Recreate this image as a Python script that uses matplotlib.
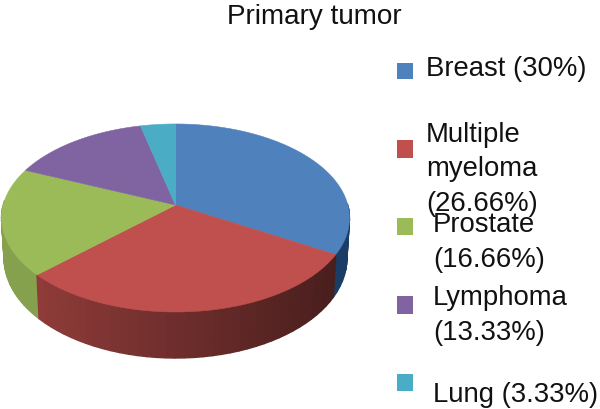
import matplotlib
matplotlib.use('Agg')
import matplotlib.pyplot as plt
import numpy as np
from matplotlib.colors import to_rgb
from matplotlib.patches import Rectangle

plt.rcParams['font.family'] = ['Liberation Sans', 'DejaVu Sans']

# Data
title = 'Primary tumor'
categories = ['Breast', 'Multiple myeloma', 'Prostate', 'Lymphoma', 'Lung']
values = [30, 26.66, 16.66, 13.33, 3.33]
colors = ['#4F81BD', '#C0504D', '#9BBB59', '#8064A2', '#4BACC6']
legend_lines = [
    ['Breast (30%)'],
    ['Multiple', 'myeloma', '(26.66%)'],
    ['Prostate', '(16.66%)'],
    ['Lymphoma', '(13.33%)'],
    ['Lung (3.33%)'],
]

# Layout of the fake 3D pie, in pixels
cx, cy = 175.5, 205
rx, ry = 172.3, 92.2
tilt = 0.138
depth = 39.7


def project(theta, drop=0.0, squeeze=1.0):
    # circle in the pie plane -> screen, with a bit of perspective
    u, v = np.cos(theta), np.sin(theta)
    w = 1 + tilt * v
    return cx + squeeze * rx * u / w, cy - ry * v / w + drop / w


fig = plt.figure(figsize=(6, 4.09), dpi=100)
ax = fig.add_axes([0, 0, 1, 1])
ax.set_xlim(0, 600)
ax.set_ylim(409, 0)
ax.axis('off')

# slice limits, clockwise from the top
shares = np.array(values) / np.sum(values)
edges = np.pi / 2 - 2 * np.pi * np.concatenate([[0], np.cumsum(shares)])

# Side wall first, one shaded strip per small step
for i in [0, 2, 1]:
    steps = np.linspace(edges[i], edges[i + 1], 40)
    xs = project(steps)[0]
    for j in range(len(steps) - 1):
        if np.sin(steps[j]) > 0.06 or np.sin(steps[j + 1]) > 0.06:
            continue
        x_mid = (xs[j] + xs[j + 1]) / 2
        if i == 0:
            col = np.array([0.10, 0.24, 0.40])
        elif i == 1:
            f = np.clip((x_mid - 38) / (335 - 38), 0, 1)
            col = np.array(to_rgb(colors[i])) * (0.74 - 0.36 * f)
        else:
            col = np.array(to_rgb(colors[i])) * 0.86
        t = steps[j:j + 2]
        x0, y0 = project(t)
        x1, y1 = project(t[::-1], depth, 0.985)
        ax.fill(np.r_[x0, x1], np.r_[y0, y1], color=col, lw=1.0)

# Top face
for i, color in enumerate(colors):
    t = np.linspace(edges[i], edges[i + 1], 120)
    x, y = project(t)
    ax.fill(np.r_[cx, x], np.r_[cy, y], color=color, lw=0.4)

ax.text(314, 23.5, title, fontsize=20.1, ha='center', va='baseline', color='#111111')

# Legend, placed by hand like the original
marker_y = [63, 140, 218, 296, 374]
marker_h = [16, 18, 17, 18, 17]
text_x = [426, 426, 433, 433, 433]
text_y = [76, 142, 232, 305, 402]
line_gap = [0, 34.5, 35, 34.5, 0]
for k, lines in enumerate(legend_lines):
    ax.add_patch(Rectangle((397, marker_y[k]), 16, marker_h[k], color=colors[k], lw=0))
    for n, line in enumerate(lines):
        ax.text(text_x[k], text_y[k] + n * line_gap[k], line, fontsize=19.8,
                va='baseline', color='#111111')

fig.savefig('out.png', dpi=100)
